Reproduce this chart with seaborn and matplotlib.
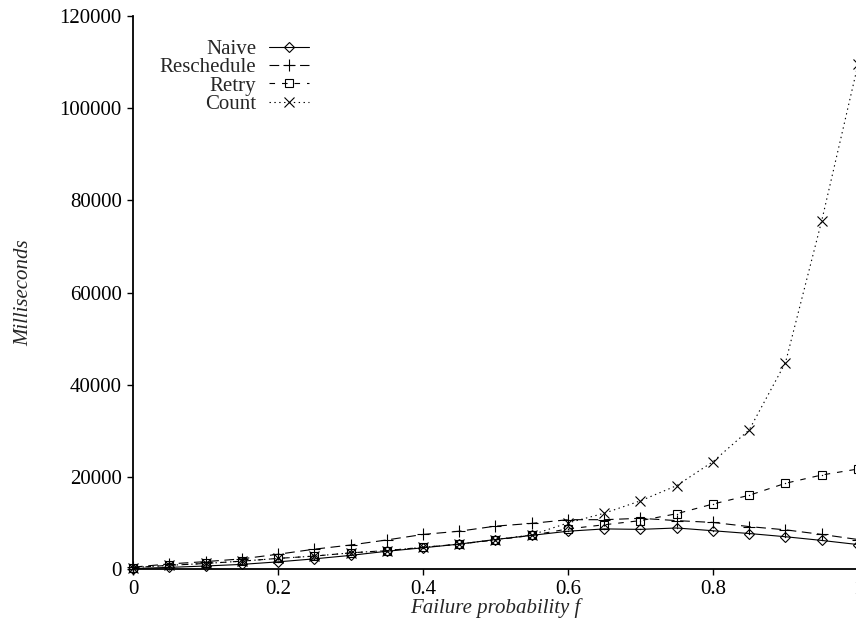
import matplotlib
matplotlib.use("Agg")
import matplotlib.pyplot as plt
import seaborn as sns
import numpy as np
import pandas as pd

# ---- data ----
failure_prob = [0.0, 0.05, 0.1, 0.15, 0.2, 0.25, 0.3, 0.35, 0.4, 0.45, 0.5,
                0.55, 0.6, 0.65, 0.7, 0.75, 0.8, 0.85, 0.9, 0.95, 1.0]
naive = [100, 350, 650, 1000, 1550, 2200, 2950, 3850, 4600, 5400, 6400,
         7300, 8200, 8700, 8600, 8900, 8300, 7700, 7000, 6200, 5300]
reschedule = [400, 1100, 1600, 2200, 3200, 4300, 5200, 6300, 7500, 8200, 9300,
              9900, 10700, 10700, 11000, 10500, 10100, 9200, 8500, 7500, 6400]
retry = [300, 800, 1200, 1700, 2300, 2800, 3500, 4000, 4700, 5400, 6300,
         7300, 8700, 9600, 10500, 12000, 14100, 16000, 18600, 20400, 21700]
count = [300, 800, 1200, 1700, 2300, 2800, 3500, 4000, 4700, 5400, 6400,
         7400, 10000, 12100, 14800, 18100, 23300, 30200, 44800, 75600, 109500]

series_names = ["Naive", "Reschedule", "Retry", "Count"]
series_values = [naive, reschedule, retry, count]

x_ticks = [0, 0.2, 0.4, 0.6, 0.8, 1.0]
x_ticklabels = ["0", "0.2", "0.4", "0.6", "0.8", "1"]
y_ticks = [0, 20000, 40000, 60000, 80000, 100000, 120000]
y_ticklabels = ["0", "20000", "40000", "60000", "80000", "100000", "120000"]

# ---- styling ----
sns.set_theme(style="ticks")
plt.rcParams["font.family"] = ["Liberation Serif", "DejaVu Serif"]
plt.rcParams["lines.scale_dashes"] = False

FS = 15
W, H = 856, 621
fig = plt.figure(figsize=(W / 100, H / 100), dpi=100)
ax = fig.add_axes([133 / W, (H - 569) / H, (858 - 133) / W, (569 - 16) / H])

styles = {
    "Naive": dict(marker="D", markersize=5.5, linestyle="-"),
    "Reschedule": dict(marker="+", markersize=8, linestyle=(0, (7, 4))),
    "Retry": dict(marker="s", markersize=6, linestyle=(0, (4, 5))),
    "Count": dict(marker="x", markersize=7, linestyle=(0, (1, 2.5))),
}

df = pd.DataFrame({"f": failure_prob})
for name, vals in zip(series_names, series_values):
    df[name] = vals
    st = styles[name]
    sns.lineplot(data=df, x="f", y=name, ax=ax, color="black", linewidth=0.8,
                 marker=st["marker"], markersize=st["markersize"],
                 linestyle=st["linestyle"], markerfacecolor="none",
                 markeredgecolor="black", markeredgewidth=0.8, label=name,
                 clip_on=False)
    if name in ("Naive", "Retry"):
        sns.lineplot(data=df, x="f", y=name, ax=ax, color="black",
                     linestyle="none", marker="o", markersize=1.0,
                     markeredgewidth=0, markerfacecolor="black", clip_on=False)

ax.set_xlim(0, 1)
ax.set_ylim(0, 120000)
ax.set_xticks(x_ticks)
ax.set_xticklabels(x_ticklabels)
ax.set_yticks(y_ticks)
ax.set_yticklabels(y_ticklabels)
ax.tick_params(axis="both", direction="out", length=4, width=1.0,
               labelsize=FS, colors="black", pad=4)
for side in ("top", "right"):
    ax.spines[side].set_visible(False)
for side in ("left", "bottom"):
    ax.spines[side].set_linewidth(1.3)
    ax.spines[side].set_color("black")

ax.set_xlabel("Failure probability f", fontsize=FS, style="italic", labelpad=-1)
ax.set_ylabel("Milliseconds", fontsize=FS, style="italic", labelpad=19)

handles, labels = ax.get_legend_handles_labels()
keep = [(h, l) for h, l in zip(handles, labels) if l in series_names]
leg = ax.legend([h for h, _ in keep], [l for _, l in keep],
                loc="upper right", bbox_to_anchor=(319 / W, 1 - 29 / H),
                bbox_transform=fig.transFigure, frameon=False, markerfirst=False,
                fontsize=FS, handlelength=1.9, handletextpad=0.6,
                labelspacing=-0.06, borderpad=0, numpoints=1)

fig.savefig("out.png", dpi=100)
